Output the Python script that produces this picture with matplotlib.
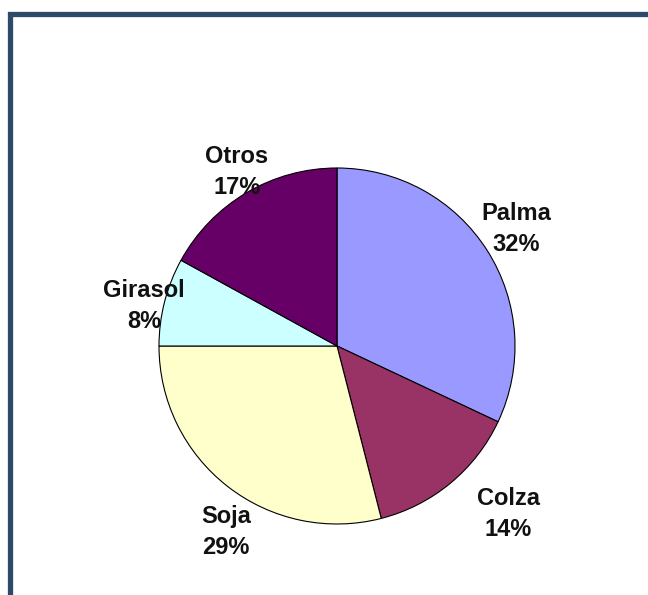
import numpy as np
import matplotlib.pyplot as plt

# Pie data (clockwise from 12 o'clock)
names = ['Palma', 'Colza', 'Soja', 'Girasol', 'Otros']
shares = [32, 14, 29, 8, 17]
colors = ['#9999FF', '#993366', '#FFFFCC', '#CCFFFF', '#660066']

W, H = 648, 595
fig = plt.figure(figsize=(W / 100, H / 100), dpi=100)
ax = fig.add_axes([0, 0, 1, 1])

cx, cy, r = 337, H - 346, 178
ax.pie(shares, colors=colors, startangle=90, counterclock=False,
       center=(cx, cy), radius=r, frame=True,
       wedgeprops=dict(edgecolor='black', linewidth=0.8))
ax.set_xlim(0, W)
ax.set_ylim(0, H)
ax.set_aspect('equal')
ax.axis('off')

# label placement, in units of the radius
label_pos = [(1.006, 0.657), (0.961, -0.944), (-0.624, -1.045),
             (-1.084, 0.225), (-0.562, 0.978)]
for n, s, (lx, ly) in zip(names, shares, label_pos):
    ax.text(cx + lx * r, cy + ly * r, f'{n}\n{s}%', ha='center', va='center',
            ma='center', fontsize=17, fontweight='bold', color='#111111',
            family='Liberation Sans', linespacing=1.4)

# frame around the chart (left and top edges visible)
ax.plot([10, 10, W + 5], [-5, H - 14, H - 14], color='#2E4A6B',
        linewidth=3.8, solid_joinstyle='miter', clip_on=False)

fig.savefig('out.png', dpi=100, facecolor='white')
